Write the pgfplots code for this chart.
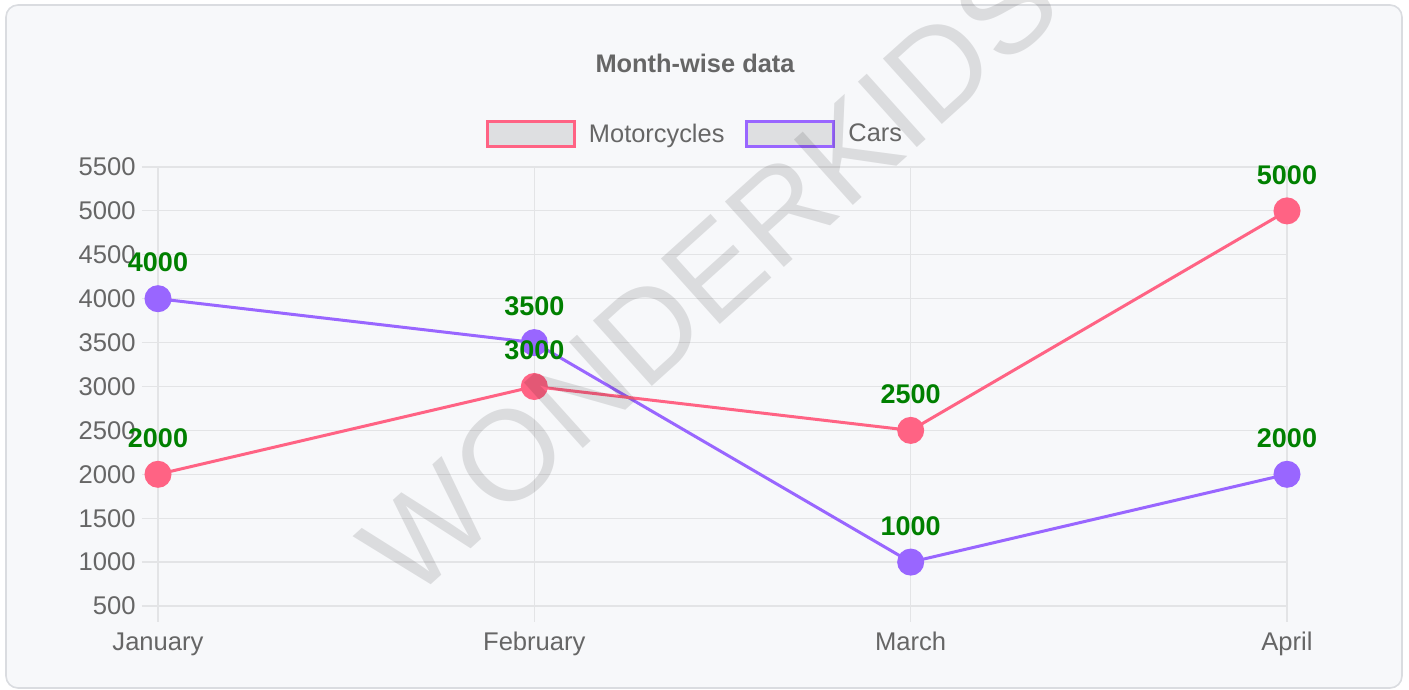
\documentclass[border=0pt]{standalone}
\usepackage{pgfplots}
\pgfplotsset{compat=1.18}
\usepackage{fontspec}
\setmainfont{Liberation Sans}
\definecolor{panelbg}{HTML}{F7F8FA}
\definecolor{panelborder}{HTML}{DADCE0}
\definecolor{gridgrey}{HTML}{E3E4E6}
\definecolor{axisgrey}{HTML}{CFD0D2}
\definecolor{txtgrey}{HTML}{666666}
\definecolor{moto}{HTML}{FF6384}
\definecolor{cars}{HTML}{9966FF}
\definecolor{lblgreen}{HTML}{008000}
\definecolor{legfill}{HTML}{DEDFE1}
\begin{document}
\begin{tikzpicture}
\useasboundingbox (0,0) rectangle (704.5pt,345pt);
\draw[fill=panelbg, draw=panelborder, line width=0.8pt, rounded corners=6pt] (3pt,1pt) rectangle (701pt,342.5pt);
\node[font=\bfseries\fontsize{12.7}{15}\selectfont, text=txtgrey] at (347.5pt,313.5pt) {Month-wise data};
\begin{axis}[
  at={(79pt,42pt)}, anchor=south west,
  scale only axis, width=564.5pt, height=219.5pt,
  xmin=0, xmax=3, ymin=500, ymax=5500,
  xtick={0,1,2,3}, xticklabels={January,February,March,April},
  ytick={500,1000,...,5500},
  xtick pos=bottom, ytick pos=left,
  clip=false,
  grid=major,
  major grid style={gridgrey, line width=0.6pt},
  axis line style={gridgrey, line width=0.6pt},
  tick align=outside, major tick length=8pt,
  tick style={gridgrey, line width=0.6pt},
  /pgf/number format/1000 sep={},
  /pgf/number format/assume math mode=true,
  ticklabel style={font=\fontsize{12.8}{15}\selectfont, text=txtgrey},
  yticklabel style={anchor=east, inner sep=0pt, xshift=-3pt},
  xticklabel style={anchor=north, inner sep=0pt, yshift=-5pt},
  legend columns=2,
  legend style={at={(0.4748,1.0752)}, anchor=center, draw=none, fill=none,
    font=\fontsize{12.7}{15}\selectfont, text=txtgrey,
    nodes={inner sep=0pt},
    /tikz/every odd column/.append style={column sep=6.5pt},
    /tikz/every even column/.append style={column sep=10.5pt}},
  nodes near coords,
  point meta=y,
  every node near coord/.append style={font=\bfseries\fontsize{13.5}{15}\selectfont, text=lblgreen, anchor=center, yshift=18pt, /pgf/number format/1000 sep={}},
]
\addlegendimage{legend image code/.code={\draw[moto, fill=legfill, line width=1.5pt] (0pt,-6pt) rectangle (43.5pt,6.5pt);}}
\addlegendentry{Motorcycles}
\addlegendimage{legend image code/.code={\draw[cars, fill=legfill, line width=1.5pt] (0pt,-6pt) rectangle (43.5pt,6.5pt);}}
\addlegendentry{Cars}
\addplot[cars, line width=1.5pt, mark=*, mark size=6pt, mark options={fill=cars, draw=cars}] coordinates {(0,4000) (1,3500) (2,1000) (3,2000)};
\addplot[moto, line width=1.5pt, mark=*, mark size=6pt, mark options={fill=moto, draw=moto}] coordinates {(0,2000) (1,3000) (2,2500) (3,5000)};
\end{axis}
\node[rotate=42, font=\fontsize{64}{64}\selectfont, text=black, opacity=0.11] at (355pt,207.5pt) {WONDERKIDS};
\end{tikzpicture}
\end{document}
